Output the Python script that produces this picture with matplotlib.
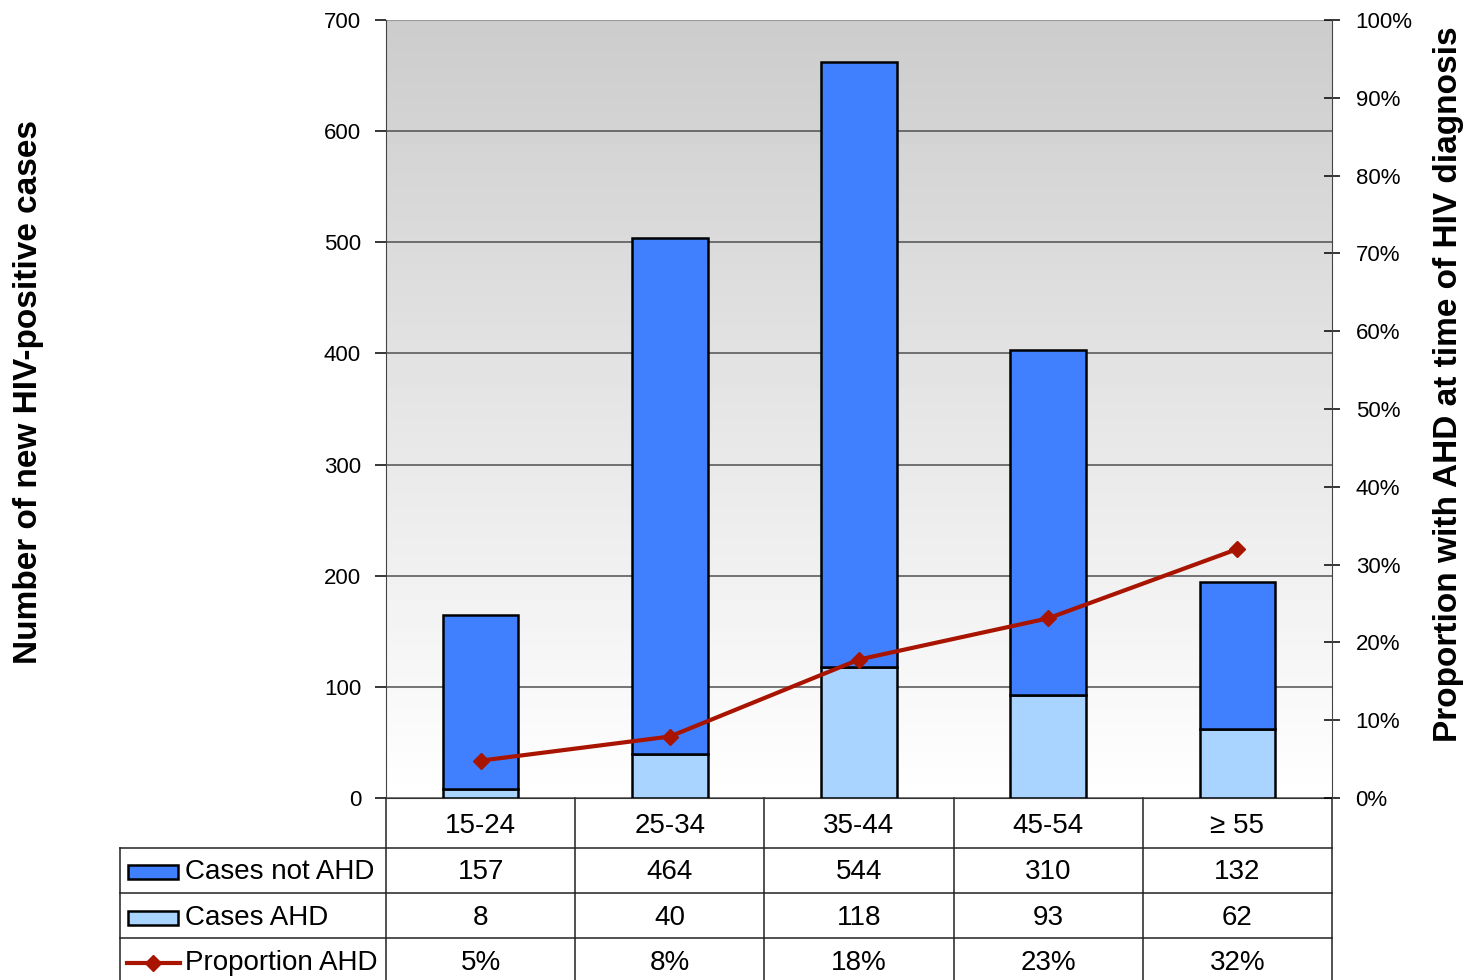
import numpy as np
import matplotlib.pyplot as plt
from matplotlib.transforms import blended_transform_factory
from matplotlib.lines import Line2D
from matplotlib.patches import Rectangle

plt.rcParams['font.family'] = ['Liberation Sans', 'DejaVu Sans']

# data
grupos = ['15-24', '25-34', '35-44', '45-54', '\u2265 55']
no_ahd = [157, 464, 544, 310, 132]
ahd = [8, 40, 118, 93, 62]
proporcion = [4.8, 7.9, 17.8, 23.1, 32.0]
proporcion_txt = ['5%', '8%', '18%', '23%', '32%']

c_no = '#4080ff'
c_si = '#a8d4ff'
c_linea = '#a81400'

fig = plt.figure(figsize=(14.66, 9.8), dpi=100)
ax = fig.add_axes([386/1466, 1-798/980, 946/1466, 778/980])
x = np.arange(len(grupos))

# fondo degradado (gris arriba, blanco abajo)
grad = np.linspace(0.8, 1.0, 256).reshape(-1, 1)
ax.imshow(grad, cmap='gray', vmin=0, vmax=1, aspect='auto', origin='upper',
          extent=[0, 1, 0, 1], transform=ax.transAxes, zorder=0)

ax.bar(x, ahd, width=0.4, color=c_si, edgecolor='black', lw=1.8, zorder=3)
ax.bar(x, no_ahd, bottom=ahd, width=0.4, color=c_no, edgecolor='black', lw=1.8, zorder=3)

ax.set_xlim(-0.5, 4.5)
ax.set_ylim(0, 700)
ax.set_yticks(range(0, 701, 100))
ax.yaxis.grid(True, color='#505050', lw=1.1, zorder=1)
ax.set_axisbelow(True)
ax.set_xticks([])
ax.tick_params(axis='y', direction='out', length=8, width=1.1, labelsize=16, pad=10)
for s in ['top', 'right']:
    ax.spines[s].set_visible(False)
ax.spines['left'].set_color('#444444')
ax.spines['bottom'].set_color('#333333')
ax.set_ylabel('Number of new HIV-positive cases', fontsize=24, fontweight='bold', labelpad=0)
ax.yaxis.set_label_coords(-0.362, 0.522)

ax2 = ax.twinx()
ax2.plot(x, proporcion, color=c_linea, lw=3, marker='D', ms=8, zorder=5)
ax2.set_ylim(0, 100)
ax2.set_yticks(range(0, 101, 10))
ax2.set_yticklabels([f'{v}%' for v in range(0, 101, 10)])
ax2.tick_params(axis='y', direction='inout', length=12, width=1.1, labelsize=16, pad=11)
for s in ['top', 'left', 'bottom']:
    ax2.spines[s].set_visible(False)
ax2.spines['right'].set_color('#444444')
ax2.set_ylabel('Proportion with AHD at time of HIV diagnosis', fontsize=24, fontweight='bold')
ax2.yaxis.set_label_coords(1.107, 0.532)
ax.axhline(700, color='#999999', lw=1.5, zorder=2)

# tabla de datos
tr = blended_transform_factory(ax.transData, ax.transAxes)
trf = blended_transform_factory(fig.transFigure, ax.transAxes)
ys = [-50/778, -95/778, -140/778]
ybot = -182/778
yc = [-28/778, -74/778, -120/778, -165/778]
x0 = 120/1466

for b in np.arange(-0.5, 5, 1):
    ax.add_line(Line2D([b, b], [0, ybot], transform=tr, color='#222222', lw=1.1, clip_on=False))
for yy in ys:
    ax.add_line(Line2D([x0, 1332/1466], [yy, yy], transform=trf, color='#222222', lw=1.1, clip_on=False))
ax.add_line(Line2D([x0, x0], [ys[0], ybot], transform=trf, color='#222222', lw=1.1, clip_on=False))

filas = [grupos, no_ahd, ahd, proporcion_txt]
for fila, yy in zip(filas, yc):
    for i, v in enumerate(fila):
        ax.text(i, yy, str(v), transform=tr, ha='center', va='center', fontsize=20)

etiquetas = ['Cases not AHD', 'Cases AHD', 'Proportion AHD']
for j, (lab, yy) in enumerate(zip(etiquetas, yc[1:])):
    ax.text(185/1466, yy, lab, transform=trf, ha='left', va='center', fontsize=20)
    if j < 2:
        col = c_no if j == 0 else c_si
        ax.add_patch(Rectangle((128/1466, yy - 7/778), 50/1466, 14/778, transform=trf,
                               facecolor=col, edgecolor='black', lw=1.8, clip_on=False))
    else:
        ax.add_line(Line2D([127/1466, 180/1466], [yy, yy], transform=trf, color=c_linea, lw=3,
                           clip_on=False))
        ax.add_line(Line2D([153/1466], [yy], transform=trf, color=c_linea, marker='D', ms=8,
                           clip_on=False))

fig.savefig('out.png', dpi=100)
